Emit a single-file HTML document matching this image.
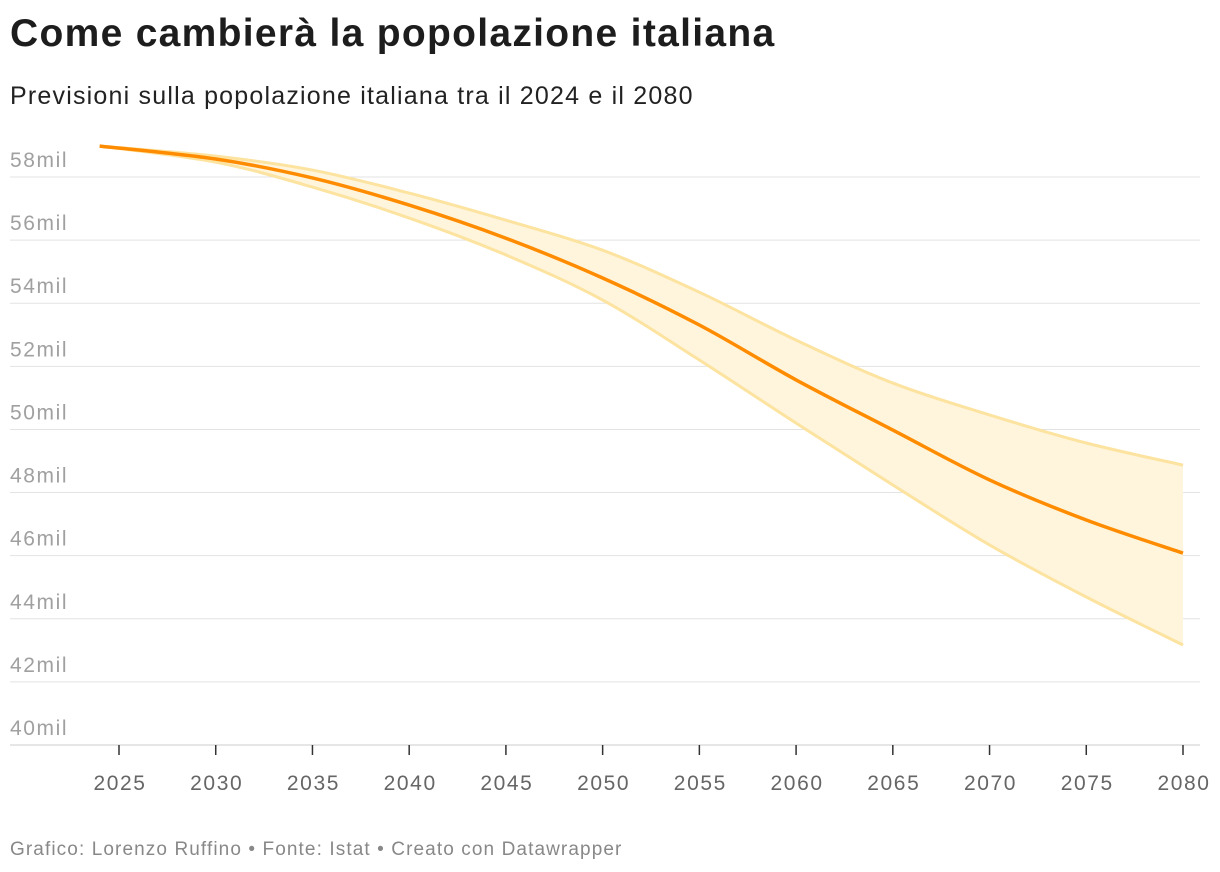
<!DOCTYPE html>
<html><head><meta charset="utf-8">
<style>
body{margin:0;background:#fff;font-family:"Liberation Sans",sans-serif;}
#wrap{position:relative;width:1220px;height:872px;overflow:hidden;}
h1{position:absolute;left:10px;top:12px;margin:0;font-size:39px;font-weight:bold;color:#1d1d1d;letter-spacing:1.3px}
.sub{position:absolute;left:10px;top:82px;font-size:25px;color:#222;letter-spacing:1.2px}
.foot{position:absolute;left:10px;top:839px;font-size:19px;color:#888;letter-spacing:1.1px}
svg{position:absolute;left:0;top:0}
</style></head><body>
<div id="wrap">
<h1>Come cambierà la popolazione italiana</h1>
<div class="sub">Previsioni sulla popolazione italiana tra il 2024 e il 2080</div>
<svg id="chart" width="1220" height="872"></svg>
<div class="foot">Grafico: Lorenzo Ruffino • Fonte: Istat • Creato con Datawrapper</div>
</div>
<script>
const years=[2024,2030,2035,2040,2045,2050,2055,2060,2065,2070,2075,2080];
const median=[58.98,58.57,57.97,57.11,56.06,54.80,53.31,51.57,49.98,48.40,47.13,46.08];
const upper=[58.98,58.66,58.22,57.49,56.63,55.68,54.35,52.83,51.47,50.46,49.57,48.87];
const lower=[58.98,58.47,57.68,56.70,55.53,54.10,52.20,50.20,48.24,46.34,44.69,43.17];
const yTicks=[40,42,44,46,48,50,52,54,56,58];
const xTicks=[2025,2030,2035,2040,2045,2050,2055,2060,2065,2070,2075,2080];

const NS="http://www.w3.org/2000/svg";
const svg=document.getElementById('chart');
const x=v=>119+(v-2025)*(1064/55);
const y=v=>745-(v-40)*(568/18);
function mk(t,a){const e=document.createElementNS(NS,t);for(const k in a)e.setAttribute(k,a[k]);svg.appendChild(e);return e;}
function smooth(pts){let d='M'+pts[0][0]+','+pts[0][1];for(let i=0;i<pts.length-1;i++){const p0=pts[i-1]||pts[i],p1=pts[i],p2=pts[i+1],p3=pts[i+2]||p2;const c1=[p1[0]+(p2[0]-p0[0])/6,p1[1]+(p2[1]-p0[1])/6],c2=[p2[0]-(p3[0]-p1[0])/6,p2[1]-(p3[1]-p1[1])/6];d+=' C'+c1+' '+c2+' '+p2;}return d;}

yTicks.forEach(t=>{
  const g=mk('line',{x1:10,x2:1200,y1:y(t),y2:y(t),stroke:t===40?'#ccc':'#e3e3e3','stroke-width':1});
  
  
  const l=mk('text',{x:10,y:y(t)-10,'font-size':21,fill:'#a0a0a0','letter-spacing':1.6});
  l.textContent=t+'mil';
  
  
});
xTicks.forEach(t=>{
  const tk=mk('line',{x1:x(t),x2:x(t),y1:745,y2:755,stroke:'#333','stroke-width':1.5});
  
  
  const l=mk('text',{x:x(t)+1,y:790,'font-size':21,fill:'#666','text-anchor':'middle','letter-spacing':1.6});
  l.textContent=t;
  
  
});
const up=years.map((v,i)=>[x(v),y(upper[i])]);
const lo=years.map((v,i)=>[x(v),y(lower[i])]);
const loRev=lo.slice().reverse();
const band=mk('path',{d:smooth(up)+' L'+loRev[0]+' '+smooth(loRev).slice(1)+'Z',fill:'#fff5dc',stroke:'none'});


const ul=mk('path',{d:smooth(up),fill:'none',stroke:'#fde3a0','stroke-width':3});


const ll=mk('path',{d:smooth(lo),fill:'none',stroke:'#fde3a0','stroke-width':3});


const ml=mk('path',{d:smooth(years.map((v,i)=>[x(v),y(median[i])])),fill:'none',stroke:'#ff8c00','stroke-width':3.5});


</script>
</body></html>
